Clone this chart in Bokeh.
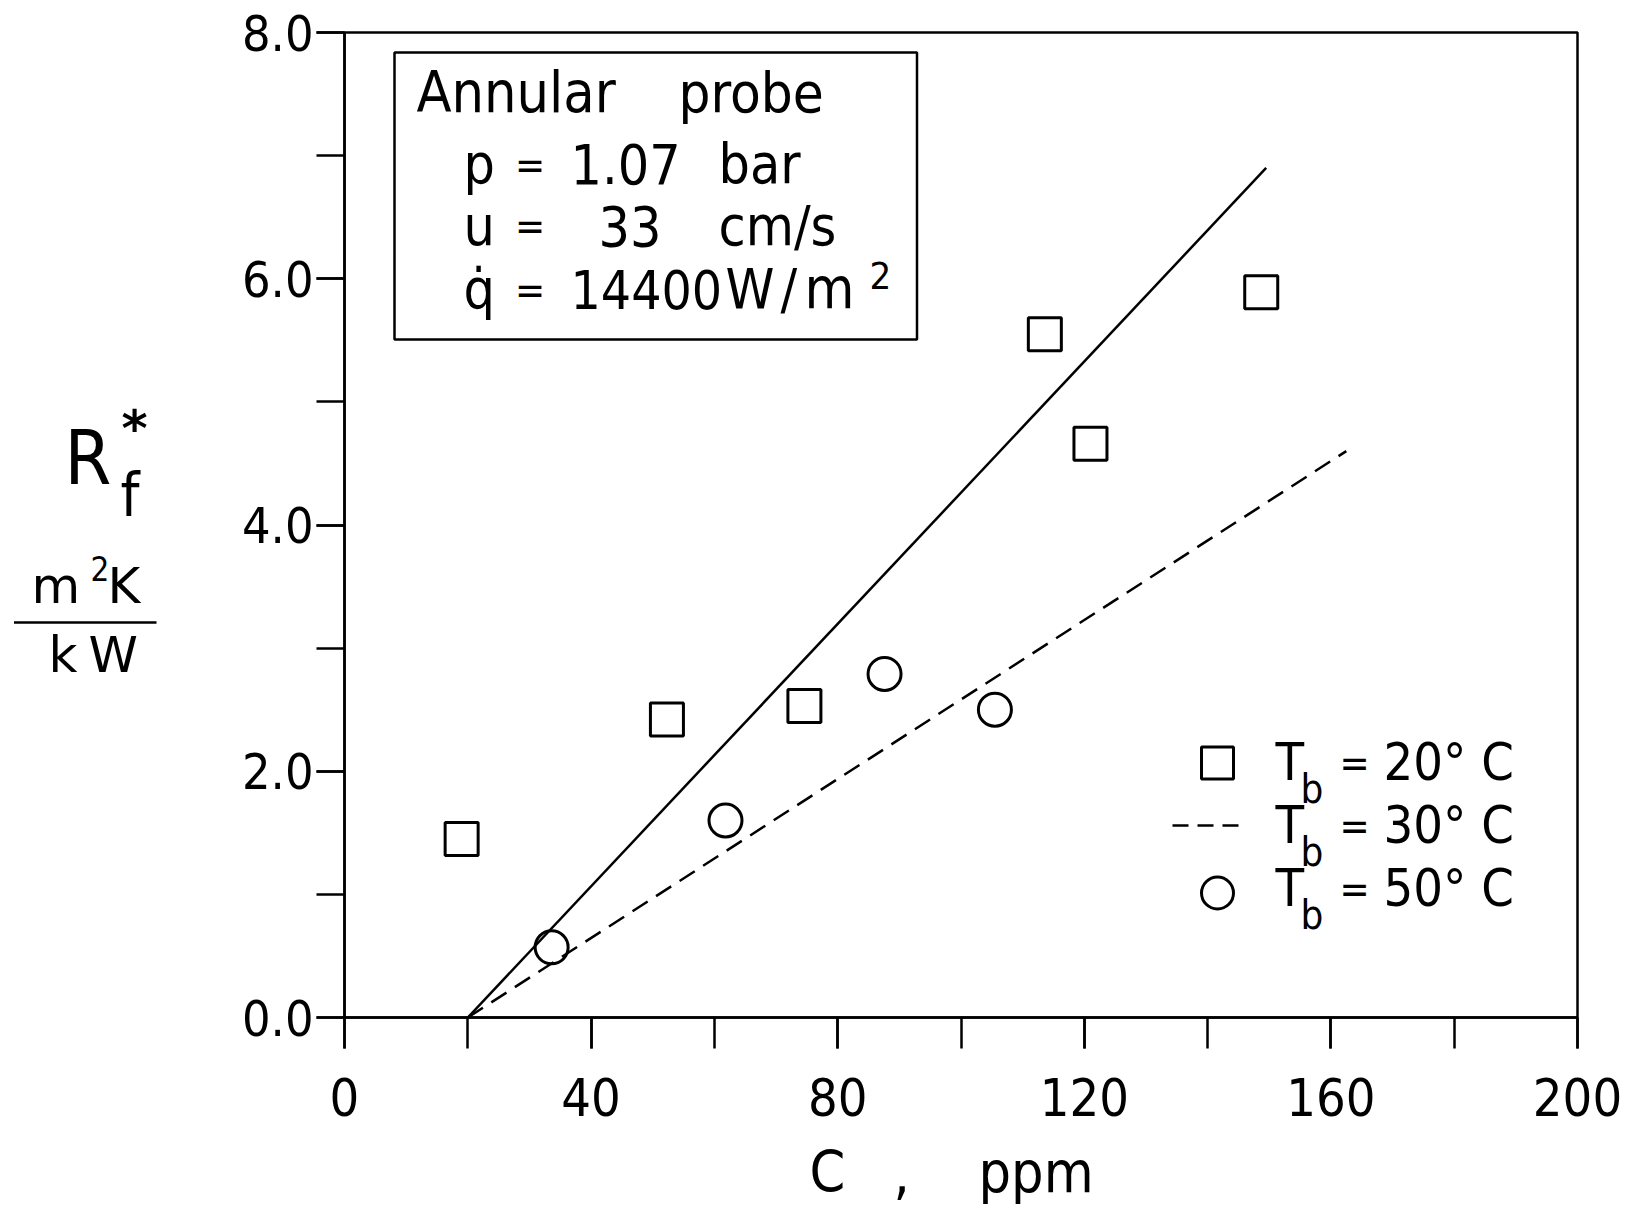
from bokeh.plotting import figure
from bokeh.models import (Range1d, Label, SingleIntervalTicker, PrintfTickFormatter, Arrow)
from bokeh.embed import file_html
from bokeh.resources import INLINE

# ---- data ----
conc_20 = [19.0, 52.3, 74.6, 113.6, 121.0, 148.7]      # C, ppm  (Tb = 20 C, squares)
rf_20 = [1.45, 2.42, 2.53, 5.55, 4.66, 5.89]           # Rf*, m2K/kW
conc_50 = [33.6, 61.8, 87.6, 105.5]                    # Tb = 50 C, circles
rf_50 = [0.57, 1.60, 2.79, 2.50]
fit20_c = [20.0, 149.5]                                # solid line (Tb = 20 C)
fit20_r = [0.0, 6.9]
fit30_c = [20.0, 162.5]                                # dashed line (Tb = 30 C)
fit30_r = [0.0, 4.6]
x_axis_range = [0, 200]
y_axis_range = [0, 8]
x_ticks_major = 40
y_ticks_major = 2

# ---- layout: the frame covers the whole page, axes sit at fixed locations ----
W, H = 1631, 1213
AX_L, AX_R, AX_T, AX_B = 344, 1577, 32, 1017    # pixel box of the data axes
X0, X1 = x_axis_range
Y0, Y1 = y_axis_range
sx = (AX_R - AX_L) / (X1 - X0)
sy = (AX_B - AX_T) / (Y1 - Y0)


def dx(X):
    return X0 + (X - AX_L) / sx


def dy(Y):
    return Y0 + (AX_B - Y) / sy


LETTER = "DejaVu Sans Condensed, DejaVu Sans, sans-serif"
WIDE = "DejaVu Sans, sans-serif"
DIGIT = "Liberation Sans Narrow, DejaVu Sans Condensed, sans-serif"

p = figure(width=W, height=H, output_backend="svg", toolbar_location=None,
           x_range=Range1d(dx(0), dx(W)), y_range=Range1d(dy(H), dy(0)),
           min_border=0)
p.grid.visible = False
p.background_fill_color = "white"
p.border_fill_color = "white"
p.outline_line_color = None

xa = p.xaxis[0]
ya = p.yaxis[0]
for ax in (xa, ya):
    ax.axis_line_width = 2.5
    ax.major_tick_line_width = 2.5
    ax.minor_tick_line_width = 2.5
    ax.major_tick_in = 0
    ax.minor_tick_in = 0
    ax.major_label_text_font = DIGIT
    ax.major_label_text_color = "black"
    ax.fixed_location = 0

xa.bounds = (X0, X1)
xa.ticker = SingleIntervalTicker(interval=x_ticks_major, num_minor_ticks=2)
xa.major_tick_out = 31
xa.minor_tick_out = 31
xa.major_label_text_font_size = "52px"
xa.major_label_standoff = 29

ya.bounds = (Y0, Y1)
ya.ticker = SingleIntervalTicker(interval=y_ticks_major, num_minor_ticks=2)
ya.formatter = PrintfTickFormatter(format="%.1f")
ya.major_tick_out = 28
ya.minor_tick_out = 28
ya.major_label_text_font_size = "50px"
ya.major_label_standoff = 3

# plot box (top and right edges)
p.quad(left=[X0], right=[X1], bottom=[Y0], top=[Y1], fill_color=None,
       line_color="black", line_width=2.5)

# ---- data marks ----
p.line(fit20_c, fit20_r, line_color="black", line_width=2.5)
p.line(fit30_c, fit30_r, line_color="black", line_width=2.5, line_dash="18 10")
p.scatter(conc_20, rf_20, marker="square", size=33, fill_color=None,
          line_color="black", line_width=3)
p.scatter(conc_50, rf_50, marker="circle", size=33, fill_color=None,
          line_color="black", line_width=3)


def lab(X, Y, s, size, font=LETTER, align="left", style="normal"):
    # Y is the wanted baseline in page pixels
    p.add_layout(Label(x=dx(X), y=dy(Y - 0.39 * size), text=s, text_font_size=f"{size}px",
                       text_font=font, text_align=align, text_baseline="alphabetic",
                       text_font_style=style, text_color="black"))


# ---- annotation box ----
p.quad(left=[dx(394)], right=[dx(916.5)], top=[dy(52)], bottom=[dy(339)],
       fill_color=None, line_color="black", line_width=2.5)
lab(416, 114, "Annular", 57)
lab(678, 114, "probe", 56)
lab(463, 185, "p", 55)
lab(529.5, 180, "=", 40, DIGIT, "center")
lab(570, 185, "1.07", 55, DIGIT)
lab(718, 185, "bar", 55)
lab(463, 246.5, "u", 55)
lab(529.5, 241.5, "=", 40, DIGIT, "center")
lab(598, 246.5, "33", 55, DIGIT)
lab(718, 246.5, "cm/s", 55)
lab(463, 310, "q\u0307", 55)
lab(529.5, 305, "=", 40, DIGIT, "center")
lab(570, 310, "14400", 53, DIGIT)
lab(725, 310, "W", 55)
lab(780, 310, "/", 55)
lab(804, 310, "m", 57)
lab(869, 290, "2", 38, DIGIT)

# ---- legend ----
p.scatter([dx(1217)], [dy(762.5)], marker="square", size=32, fill_color=None,
          line_color="black", line_width=3)
p.line([dx(1172), dx(1238)], [dy(825), dy(825)], line_color="black", line_width=2.5,
       line_dash="16 9")
p.scatter([dx(1217)], [dy(892.5)], marker="circle", size=32, fill_color=None,
          line_color="black", line_width=3)
for base, t in ((782, "20° C"), (845, "30° C"), (908, "50° C")):
    lab(1275, base, "T", 52, DIGIT)
    lab(1300, base + 22, "b", 40, DIGIT)
    lab(1354, base - 4, "=", 40, DIGIT, "center")
    lab(1383, base, t, 52, DIGIT)

# ---- y axis label ----
lab(64, 487, "R", 75, DIGIT)
lab(120, 518, "f", 60, DIGIT)
lab(121, 448, "*", 50, WIDE, style="bold")
lab(31, 605, "m", 50, WIDE)
lab(90, 581, "2", 33, DIGIT)
lab(107, 605, "K", 50, WIDE)
p.add_layout(Arrow(end=None, x_start=dx(13.5), y_start=dy(622), x_end=dx(156),
                   y_end=dy(622), line_color="black", line_width=2.5))
lab(48, 674, "k", 50, WIDE)
lab(88, 674, "W", 50, WIDE)

# ---- x axis label ----
lab(809, 1194, "C", 57, DIGIT)
lab(893, 1194, ",", 57, DIGIT)
lab(978, 1194, "ppm", 57, DIGIT)

open("out.html", "w").write(file_html(p, INLINE))
